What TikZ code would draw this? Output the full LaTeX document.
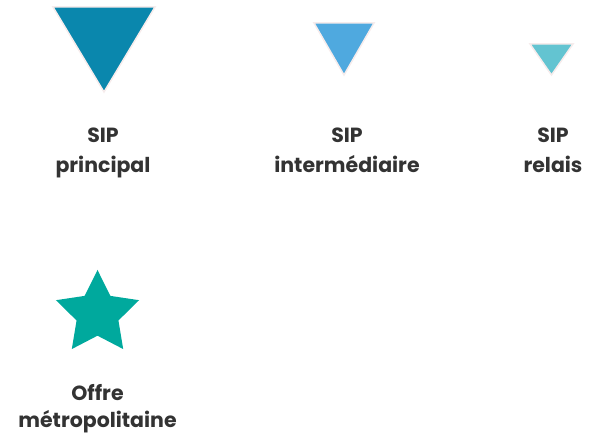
\documentclass[tikz,border=0pt]{standalone}
\usepackage{fontspec}
\setmainfont{Poppins}
\definecolor{sipmain}{HTML}{0A87AD}
\definecolor{sipmid}{HTML}{4FA9DF}
\definecolor{siprelay}{HTML}{63C4D1}
\definecolor{offrecol}{HTML}{00A99D}
\definecolor{rimcol}{HTML}{F6ECEC}
\definecolor{textgray}{HTML}{333333}
\begin{document}
\begin{tikzpicture}[x=1pt,y=1pt,
  legendtext/.style={font=\bfseries\fontsize{20.5}{30}\selectfont,text=textgray,align=center,inner sep=0pt,anchor=base},
  marker/.style={draw=rimcol,line width=1.5pt,line join=miter}]
\useasboundingbox (0,0) rectangle (594,441);
% triangles
\filldraw[marker,fill=sipmain] (53,434) -- (155,434) -- (104,349) -- cycle;
\filldraw[marker,fill=sipmid] (314,418) -- (374,418) -- (344,366) -- cycle;
\filldraw[marker,fill=siprelay] (530,397) -- (573,397) -- (551.5,366) -- cycle;
% star
\fill[offrecol,shift={(97.5,127.3)}] (90:43.7)
  \foreach \k in {1,...,9} { -- ({90+36*\k}:{mod(\k,2)==0 ? 43.7 : 22}) } -- cycle;
% labels
\node[legendtext] (principal) at (103,268) {SIP\\principal};
\node[legendtext] (intermediaire) at (347,268) {SIP\\intermédiaire};
\node[legendtext] (relais) at (553,268) {SIP\\relais};
\node[legendtext,font=\bfseries\fontsize{20.5}{27}\selectfont] (offre) at (97.5,13) {Offre\\métropolitaine};
\end{tikzpicture}
\end{document}
